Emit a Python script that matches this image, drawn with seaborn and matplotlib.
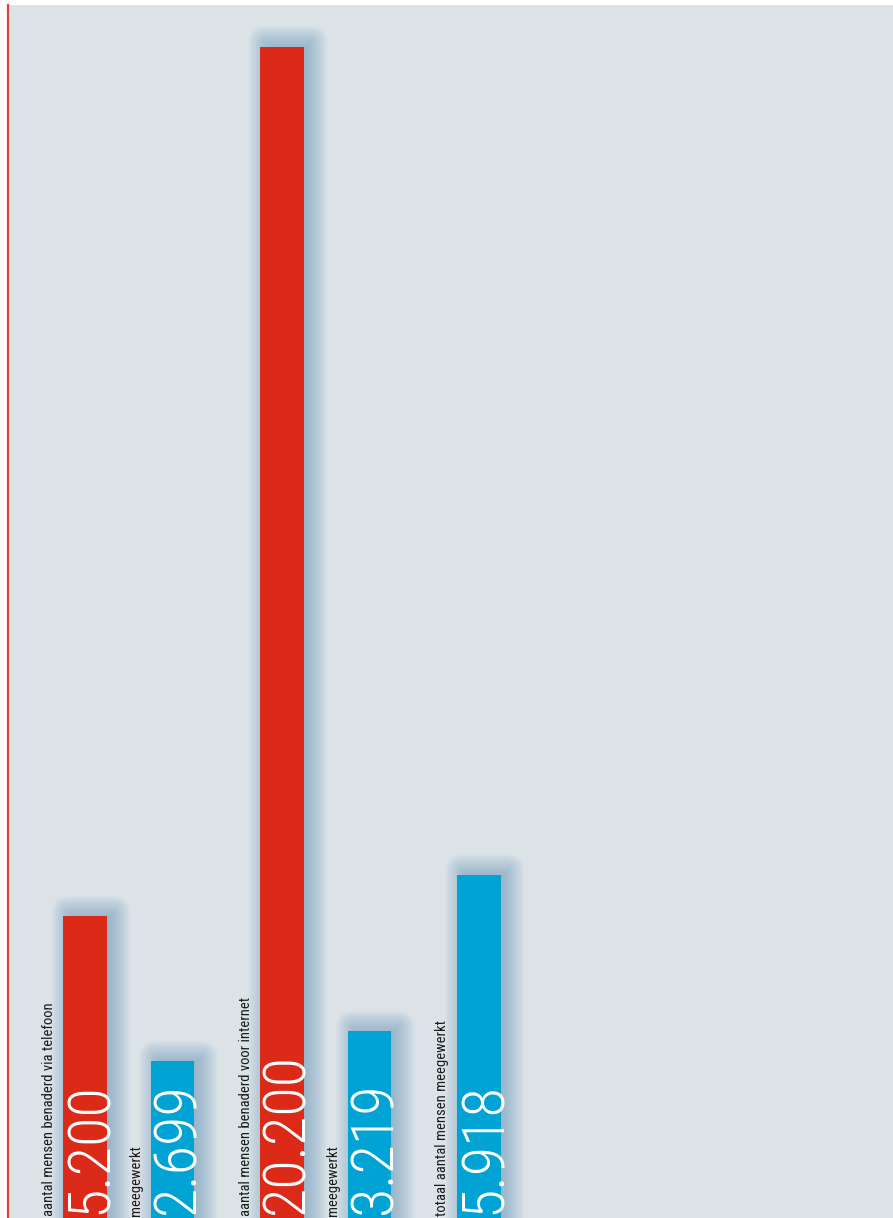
import matplotlib
matplotlib.use("Agg")
import matplotlib.pyplot as plt
from matplotlib.patches import FancyBboxPatch
from matplotlib.transforms import IdentityTransform
import seaborn as sns
import pandas as pd

# Data
labels = [
    "aantal mensen benaderd via telefoon",
    "meegewerkt",
    "aantal mensen benaderd voor internet",
    "meegewerkt",
    "totaal aantal mensen meegewerkt",
]
values = [5200, 2699, 20200, 3219, 5918]
value_text = ["5.200", "2.699", "20.200", "3.219", "5.918"]
kind = ["benaderd", "meegewerkt", "benaderd", "meegewerkt", "meegewerkt"]
group = [0, 0, 1, 1, 2]
member = [0, 1, 0, 1, 0]

RED = "#db2a18"
BLUE = "#00a3d4"
BG = "#dbe3e7"
SHADOW = "#5f93b8"
FONT = ["Roboto Condensed", "DejaVu Sans"]

GROUP_STEP = 2.25
pos = [g * GROUP_STEP + m for g, m in zip(group, member)]
df = pd.DataFrame({"pos": pos, "value": values, "kind": kind})

sns.set_theme(style="white")
plt.rcParams["font.family"] = FONT

W, H = 893, 1218
fig = plt.figure(figsize=(W / 100, H / 100), dpi=100, facecolor="white")
ax = fig.add_axes([8 / W, 0.0, 1 - 8 / W, (H - 5) / H])
ax.set_facecolor(BG)

sns.barplot(data=df, x="pos", y="value", hue="kind", native_scale=True,
            palette={"benaderd": RED, "meegewerkt": BLUE}, width=0.5,
            saturation=1, legend=False, ax=ax, zorder=3, linewidth=0)

ax.set_ylim(0, max(values) * 1.0355)
ax.set_xlim(-0.88, -0.88 + (W - 8) / 87.5)

for s in ["top", "right", "bottom"]:
    ax.spines[s].set_visible(False)
ax.spines["left"].set_color("#d6463a")
ax.spines["left"].set_linewidth(1.6)
ax.set_xticks([])
ax.set_yticks([])
ax.set_xlabel("")
ax.set_ylabel("")

# soft drop shadow behind every bar, built from the bar's own pixel extent
fig.canvas.draw()
bars = [p for p in ax.patches if p.get_height() > 0]
for bar in bars:
    bb = bar.get_window_extent()
    dx, dy = 6, 3
    for k in range(18):
        pad = -8 + 1.5 * k
        style = (f"round,pad={pad},rounding_size={pad}" if pad > 0
                 else f"square,pad={pad}")
        sh = FancyBboxPatch((bb.x0 + dx, bb.y0 - 30), bb.width, bb.height + dy + 30,
                            boxstyle=style, facecolor=SHADOW, edgecolor="none",
                            alpha=0.042, zorder=1)
        sh.set_transform(IdentityTransform())
        ax.add_patch(sh)

# value and category labels
for p, t, lab in zip(pos, value_text, labels):
    ax.annotate(t, xy=(p + 0.25, 0), xytext=(0, 4), textcoords="offset pixels",
                rotation=90, rotation_mode="anchor", ha="left", va="baseline",
                color="white", fontsize=43.5, fontweight="light", zorder=5)
    ax.annotate(lab, xy=(p - 0.25, 0), xytext=(-10.5, 2), textcoords="offset pixels",
                rotation=90, rotation_mode="anchor", ha="left", va="baseline",
                color="#1a1a1a", fontsize=10.5, zorder=5)

fig.savefig("out.png", dpi=100, facecolor="white")
